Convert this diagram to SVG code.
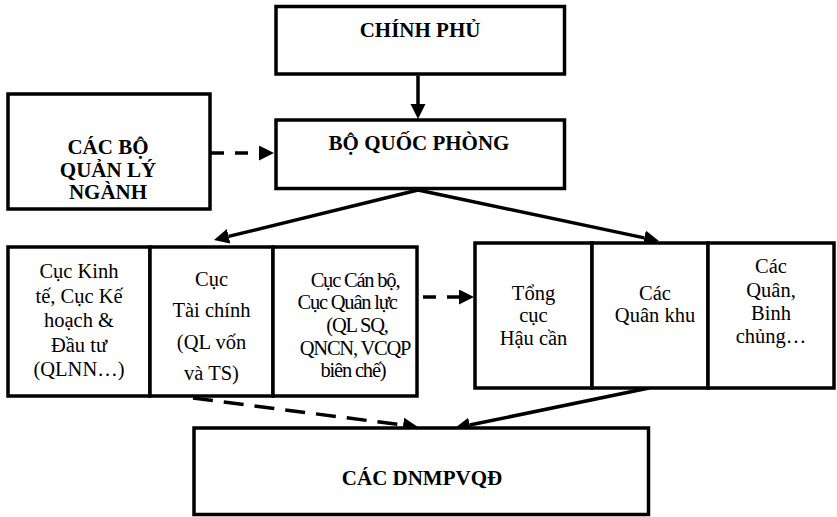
<svg xmlns="http://www.w3.org/2000/svg" width="837" height="517" viewBox="0 0 837 517">
<style>
.box{fill:#fff;stroke:#000;stroke-width:3.5}
.t{font-family:"Liberation Serif","DejaVu Serif",serif;fill:#000;text-anchor:middle}
.b{font-weight:bold;font-size:21px}
.r{font-size:20.5px}
.c{font-size:20.5px;letter-spacing:-1.2px}
.ln{stroke:#000;stroke-width:3.5;fill:none}
.d1{stroke-dasharray:13 11}
.d2{stroke-dasharray:20 11}
</style>
<defs>
<marker id="ah" markerUnits="userSpaceOnUse" markerWidth="16" markerHeight="16" refX="0" refY="7.5" orient="auto">
<path d="M0,0 L15,7.5 L0,15 z" fill="#000"/>
</marker>
</defs>
<rect width="837" height="517" fill="#fff"/>
<g id="connectors">
<line class="ln" x1="418" y1="75.5" x2="418" y2="104" marker-end="url(#ah)"/>
<line class="ln d1" x1="211" y1="153" x2="259" y2="153" marker-end="url(#ah)"/>
<line class="ln" x1="418" y1="190" x2="228.6" y2="236.4" marker-end="url(#ah)"/>
<line class="ln" x1="418" y1="190" x2="644.3" y2="237.9" marker-end="url(#ah)"/>
<line class="ln d1" x1="423" y1="297" x2="459" y2="297" marker-end="url(#ah)"/>
<line class="ln d2" x1="193" y1="398" x2="403.1" y2="425.1" marker-end="url(#ah)"/>
<line class="ln" x1="649" y1="388" x2="469.7" y2="425" marker-end="url(#ah)"/>
</g>
<g id="chinh-phu">
<rect class="box" x="276" y="6.5" width="288.5" height="67.5"/>
<text class="t b" x="420" y="37" font-family="Liberation Serif, serif">CHÍNH PHỦ</text>
</g>
<g id="bo-quoc-phong">
<rect class="box" x="276" y="120" width="288.5" height="68.5"/>
<text class="t b" x="419" y="150">BỘ QUỐC PHÒNG</text>
</g>
<g id="cac-bo-quan-ly-nganh">
<rect class="box" x="8" y="94" width="202" height="115"/>
<text class="t b" x="108" y="154">CÁC BỘ</text>
<text class="t b" x="108" y="176.5">QUẢN LÝ</text>
<text class="t b" x="108" y="199">NGÀNH</text>
</g>
<g id="cuc-kinh-te">
<rect class="box" x="8" y="247" width="142" height="149"/>
<text class="t r" x="79" y="278">Cục Kinh</text>
<text class="t r" x="79" y="302.5">tế, Cục Kế</text>
<text class="t r" x="79" y="327">hoạch &amp;</text>
<text class="t r" x="79" y="351.5">Đầu tư</text>
<text class="t r" x="79" y="376">(QLNN…)</text>
</g>
<g id="cuc-tai-chinh">
<rect class="box" x="150" y="247" width="123" height="149"/>
<text class="t r" x="211.5" y="286">Cục</text>
<text class="t r" x="211.5" y="317">Tài chính</text>
<text class="t r" x="211.5" y="349">(QL vốn</text>
<text class="t r" x="211.5" y="380">và TS)</text>
</g>
<g id="cuc-can-bo">
<rect class="box" x="273" y="247" width="144" height="149"/>
<text class="t c" x="355" y="287">Cục Cán bộ,</text>
<text class="t c" x="347" y="309">Cục Quân lực</text>
<text class="t c" x="357" y="332">(QL SQ,</text>
<text class="t c" x="355" y="355">QNCN, VCQP</text>
<text class="t c" x="353" y="377">biên chế)</text>
</g>
<g id="tong-cuc-hau-can">
<rect class="box" x="475" y="243" width="117" height="145"/>
<text class="t r" x="533.5" y="300">Tổng</text>
<text class="t r" x="533.5" y="322">cục</text>
<text class="t r" x="533.5" y="345">Hậu cần</text>
</g>
<g id="cac-quan-khu">
<rect class="box" x="592" y="243" width="116" height="145"/>
<text class="t r" x="655" y="300">Các</text>
<text class="t r" x="655" y="322">Quân khu</text>
</g>
<g id="cac-quan-binh-chung">
<rect class="box" x="708" y="243" width="126" height="145"/>
<text class="t r" x="771" y="273">Các</text>
<text class="t r" x="771" y="297">Quân,</text>
<text class="t r" x="771" y="320">Binh</text>
<text class="t r" x="771" y="343">chủng…</text>
</g>
<g id="cac-dnmpvqd">
<rect class="box" x="194" y="428" width="454.5" height="86.5"/>
<text class="t b" x="422" y="485">CÁC DNMPVQĐ</text>
</g>
</svg>
